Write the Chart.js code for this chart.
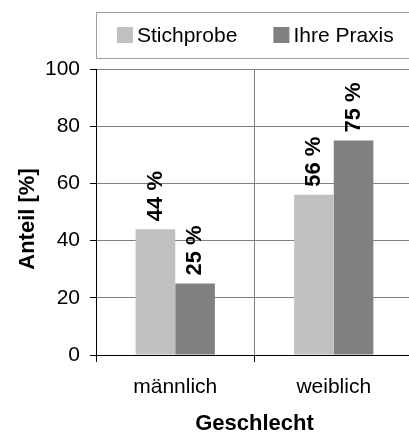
<!DOCTYPE html>
<html lang="de">
<head>
<meta charset="utf-8">
<title>Anteil nach Geschlecht</title>
<script src="https://cdn.jsdelivr.net/npm/chart.js@4/dist/chart.umd.min.js"></script>
<style>
  html, body { margin: 0; padding: 0; background: #fff; overflow: hidden; }
  canvas { display: block; }
</style>
</head>
<body>
<canvas id="genderChart" width="413" height="434"></canvas>
<script>
const categories = ["männlich", "weiblich"];
const seriesNames = ["Stichprobe", "Ihre Praxis"];
const stichprobe = [44, 56];
const ihrePraxis = [25, 75];
const seriesColors = ["#c0c0c0", "#808080"];
const yTicks = [0, 20, 40, 60, 80, 100];

const FONT = "'Liberation Sans', Arial, sans-serif";

/* ===== value labels above the bars, rotated ===== */
const barLabels = {
  id: "barLabels",
  afterDatasetsDraw(chart) {
    const ctx = chart.ctx;
    ctx.save();
    ctx.font = "bold 22px " + FONT;
    ctx.fillStyle = "#000";
    ctx.textAlign = "left";
    ctx.textBaseline = "middle";
    chart.data.datasets.forEach((ds, i) => {
      chart.getDatasetMeta(i).data.forEach((bar, j) => {
        ctx.save();
        ctx.translate(bar.x, bar.y - 8);
        ctx.rotate(-Math.PI / 2);
        ctx.fillText(ds.data[j] + " %", 0, 0);
        ctx.restore();
      });
    });
    ctx.restore();
  },
};

/* ===== boxed legend + y axis title ===== */
const boxLegend = {
  id: "boxLegend",
  afterDraw(chart) {
    const ctx = chart.ctx;
    const area = chart.chartArea;
    ctx.save();

    // legend frame
    ctx.strokeStyle = "#a0a0a0";
    ctx.lineWidth = 1;
    ctx.strokeRect(area.left + 0.5, 12.5, 330, 46);

    ctx.font = "21px " + FONT;
    ctx.textBaseline = "middle";
    ctx.textAlign = "left";
    let x = area.left + 21;
    chart.data.datasets.forEach((ds) => {
      ctx.fillStyle = ds.backgroundColor;
      ctx.fillRect(x, 27, 16, 16);
      ctx.fillStyle = "#000";
      ctx.fillText(ds.label, x + 20, 36);
      x += 20 + ctx.measureText(ds.label).width + 36;
    });

    // y axis title
    ctx.font = "bold 22px " + FONT;
    ctx.textAlign = "center";
    ctx.translate(28, (area.top + area.bottom) / 2 + 7);
    ctx.rotate(-Math.PI / 2);
    ctx.fillText("Anteil [%]", 0, 0);
    ctx.restore();
  },
};

const ctx = document.getElementById("genderChart").getContext("2d");
const genderChart = new Chart(ctx, {
  type: "bar",
  data: {
    labels: categories,
    datasets: [
      {
        label: seriesNames[0],
        data: stichprobe,
        backgroundColor: seriesColors[0],
        categoryPercentage: 0.5,
        barPercentage: 1.0,
      },
      {
        label: seriesNames[1],
        data: ihrePraxis,
        backgroundColor: seriesColors[1],
        categoryPercentage: 0.5,
        barPercentage: 1.0,
      },
    ],
  },
  options: {
    responsive: false,
    animation: false,
    devicePixelRatio: 1,
    layout: { padding: { top: 69, left: 0, right: 0, bottom: 0 } },
    plugins: {
      legend: { display: false },
      tooltip: { enabled: false },
    },
    scales: {
      x: {
        offset: true,
        grid: {
          offset: true,
          color: "#808080",
          tickColor: "#000",
          tickLength: 7,
        },
        border: { color: "#000" },
        ticks: {
          color: "#000",
          font: { family: FONT, size: 21 },
          padding: 13,
          maxRotation: 0,
        },
        title: {
          display: true,
          text: "Geschlecht",
          color: "#000",
          font: { family: FONT, size: 22, weight: "bold" },
          padding: { top: 0, bottom: -3 },
        },
        afterFit(scale) {
          scale.height = 79;
        },
      },
      y: {
        min: 0,
        max: 100,
        afterBuildTicks(scale) {
          scale.ticks = yTicks.map((v) => ({ value: v }));
        },
        grid: {
          color: "#808080",
          tickColor: "#000",
          tickLength: 6,
        },
        border: { color: "#000" },
        ticks: {
          color: "#000",
          font: { family: FONT, size: 21 },
          padding: 10,
        },
        afterFit(scale) {
          scale.width = 96;
        },
      },
    },
  },
  plugins: [barLabels, boxLegend],
});
</script>
</body>
</html>
